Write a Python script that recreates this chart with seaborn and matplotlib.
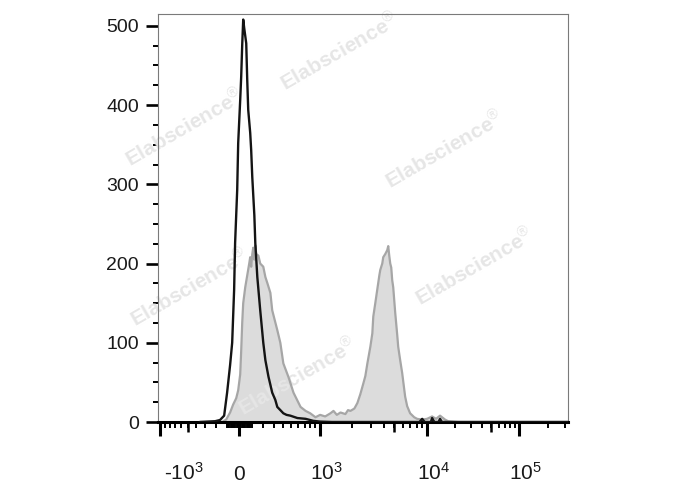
import numpy as np
import matplotlib
matplotlib.use("Agg")
import matplotlib.pyplot as plt
from matplotlib.ticker import FixedLocator, MultipleLocator, NullFormatter
import seaborn as sns

# isotype control (black line)
iso_x = [-360, -204, -160, -124, -99, -74, -57, -41, -33, -16, -8, 8, 16, 24, 32, 40,
         56, 64, 72, 88, 96, 105, 122, 130, 147, 172, 199, 218, 247, 265, 283, 314,
         335, 368, 402, 440, 488, 585, 715, 853, 1000, 1300, 8500, 9011, 9500, 11000,
         11340, 12000, 13300, 13840, 14500, 320000]
iso_count = [0, 1, 2.5, 8, 37, 72, 100, 167, 226, 293, 352, 406, 436, 476, 508, 497,
             478, 432, 394, 365, 343, 309, 261, 226, 183, 141, 100, 78, 57, 47, 37, 28,
             19, 15, 11, 9, 8, 5, 4, 1.5, 0.5, 0, 0, 4, 0, 0,
             5, 0, 0, 4, 0, 0]

# stained sample (grey filled)
stain_x = [-360, -141, -107, -74, -49, -24, -8, 8, 16, 24, 32, 48, 64, 80, 88, 96, 105,
           113, 122, 130, 138, 156, 172, 199, 218, 237, 265, 283, 335, 368, 402, 463,
           530, 633, 715, 797, 900, 1000, 1120, 1260, 1347, 1450, 1571, 1748, 1850, 1950,
           2122, 2265, 2411, 2577, 2686, 2806, 2990, 3120, 3183, 3323, 3465, 3622, 3697,
           3856, 3937, 4110, 4290, 4380, 4474, 4571, 4669, 4766, 4871, 5080, 5302, 5415,
           5647, 5890, 6277, 6551, 6977, 7605, 8090, 9011, 10000, 11340, 12530, 13840,
           15700, 16950, 21760, 320000]
stain_count = [0, 0, 3, 12, 22, 30, 40, 60, 90, 125, 150, 170, 185, 200, 208, 196, 212,
               220, 205, 223, 212, 210, 200, 196, 183, 175, 163, 141, 116, 100, 74, 57,
               37, 19, 14, 11, 6, 9, 7, 11, 14, 9, 12, 10, 15, 14,
               17, 24, 35, 49, 58, 74, 95, 112, 133, 150, 167, 185, 192,
               200, 208, 212, 217, 222, 210, 200, 195, 179, 170, 138, 110, 95,
               78, 62, 32, 20, 11, 6, 4, 3, 4, 7, 4, 8,
               3, 1, 0, 0]

major_x = [-1000, 0, 1000, 10000, 100000]
major_x_labels = ["-$\\mathregular{10^{3}}$", "0", "$\\mathregular{10^{3}}$",
                  "$\\mathregular{10^{4}}$", "$\\mathregular{10^{5}}$"]
major_y = [0, 100, 200, 300, 400, 500]

# biexponential-like display scale
C = 375.0
anchor_v = np.array([-1e6, -1000, 0, 1000, 1e4, 1e5, 3.2e5, 1e7])
anchor_p = np.array([-156, 160, 239, 320, 427, 519, 568, 712], dtype=float)
anchor_u = np.arcsinh(anchor_v / C)


def forward(x):
    return np.interp(np.arcsinh(np.asarray(x, dtype=float) / C), anchor_u, anchor_p)


def inverse(p):
    return C * np.sinh(np.interp(np.asarray(p, dtype=float), anchor_p, anchor_u))


sns.set_style("ticks")
plt.rcParams["font.family"] = ["Liberation Sans", "DejaVu Sans"]
plt.rcParams["mathtext.fontset"] = "custom"
plt.rcParams["mathtext.rm"] = "Liberation Sans"
plt.rcParams["mathtext.it"] = "Liberation Sans:italic"
plt.rcParams["mathtext.bf"] = "Liberation Sans:bold"

W, H = 688, 490
fig = plt.figure(figsize=(W / 100, H / 100), dpi=100)
ax = fig.add_axes([157.7 / W, 1 - 422 / H, (568 - 157.7) / W, (422 - 14) / H])
ax.set_xscale("function", functions=(forward, inverse))

ax.fill_between(stain_x, stain_count, 0, color="#dcdcdc", lw=0, zorder=1)
sns.lineplot(x=stain_x, y=stain_count, ax=ax, color="#a6a6a6", lw=1.6, zorder=2)
sns.lineplot(x=iso_x, y=iso_count, ax=ax, color="#141414", lw=1.7, zorder=3)

ax.set_xlim(-1060, 3.2e5)
ax.set_ylim(0, 515)
ax.set_xlabel("")
ax.set_ylabel("")

# ticks
minor_x = [-k * 10 ** d for d in range(0, 3) for k in range(1, 10)]
minor_x += [k * 10 ** d for d in range(0, 5) for k in range(1, 10) if k > 1 or d < 3]
minor_x += [200000, 300000]
ax.xaxis.set_major_locator(FixedLocator(major_x))
ax.xaxis.set_minor_locator(FixedLocator(minor_x))
ax.xaxis.set_major_formatter(NullFormatter())
ax.xaxis.set_minor_formatter(NullFormatter())
ax.set_yticks(major_y)
ax.yaxis.set_minor_locator(MultipleLocator(25))

ax.tick_params(axis="x", which="major", direction="out", length=10, width=2.2, color="black",
               bottom=True)
ax.tick_params(axis="x", which="minor", direction="out", length=4.3, width=1.4, color="black",
               bottom=True)
ax.tick_params(axis="y", which="major", direction="out", length=8.6, width=1.9, color="black",
               labelsize=14, pad=5, labelcolor="#1a1a1a", left=True)
ax.tick_params(axis="y", which="minor", direction="out", length=3.6, width=1.4, color="black",
               left=True)

# medium ticks at 5 x 10^k
ax.vlines([-500, 5000, 50000], 0, -10 / 408, transform=ax.get_xaxis_transform(),
          color="black", lw=1.8, clip_on=False, zorder=5)

for xv, lab in zip(major_x, major_x_labels):
    dx = 17 if xv < 0 else (0 if xv == 0 else 4.5)
    ax.annotate(lab, xy=(xv, 0), xycoords=("data", "axes fraction"),
                xytext=(dx, -41.8), textcoords="offset points",
                ha="center", va="baseline", fontsize=15, color="#1a1a1a")

for side in ["left", "top", "right"]:
    ax.spines[side].set_color("#7a7a7a")
    ax.spines[side].set_linewidth(0.8)
ax.spines["bottom"].set_color("black")
ax.spines["bottom"].set_linewidth(2.2)

# watermark
wm_centers = [(340, 52), (185, 128), (445, 150), (475, 267), (190, 288), (298, 377)]
for cx, cy in wm_centers:
    ax.text(cx / W, 1 - cy / H, "Elabscience$^{\\circledR}$", transform=fig.transFigure,
            rotation=30, rotation_mode="anchor", ha="center", va="center",
            fontsize=15, fontweight="bold", color="#e6e6e6", zorder=1.5, clip_on=False)

fig.savefig("out.png", dpi=100)
